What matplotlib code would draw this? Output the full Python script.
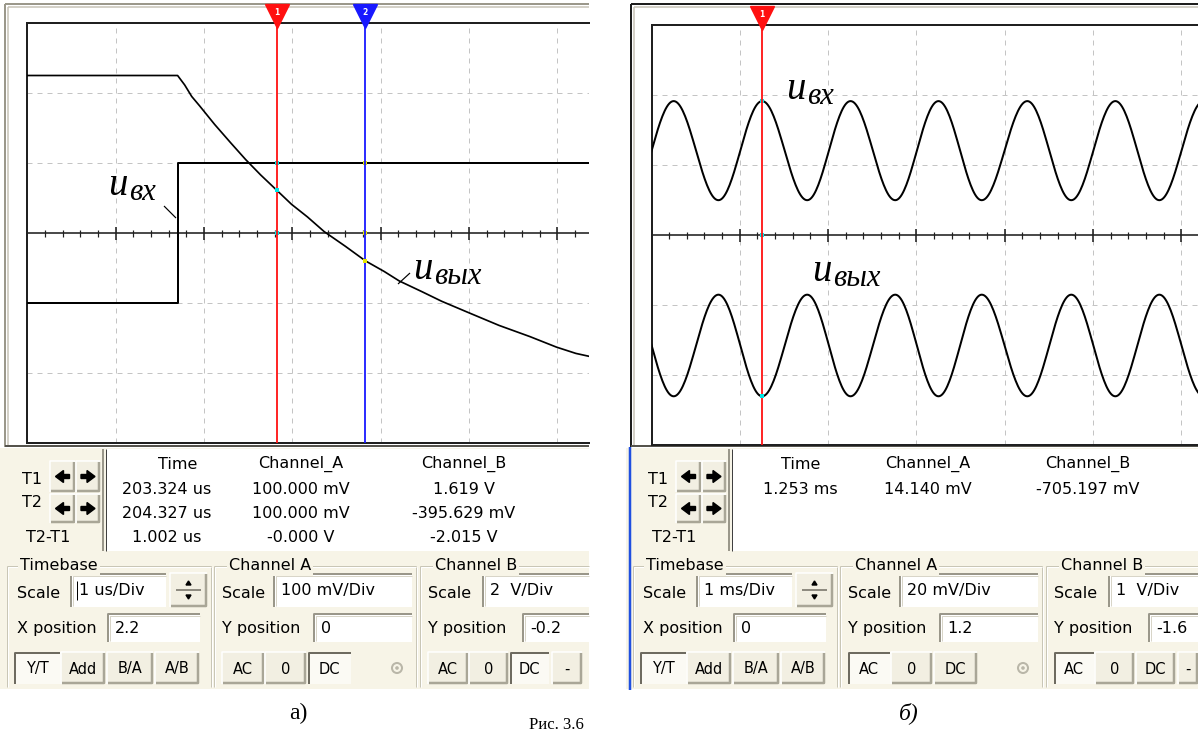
import numpy as np
import matplotlib.pyplot as plt
from matplotlib.patches import Rectangle, FancyArrow, Circle, Polygon

W, H = 1198, 735
PT = 0.72  # points per pixel at 100 dpi
BEIGE = '#F7F4E7'

# ---------- panel а): square wave step, 1 us/Div ----------
a_tA = [200.5, 202.2, 202.2, 207.0]          # us
a_uA = [-100, -100, 100, 100]                 # mV  (u_вх, channel A)
a_tB = [200.5, 202.2, 202.28, 202.36, 202.45, 202.62, 202.80, 202.97, 203.14,
        203.324, 203.49, 203.67, 203.86, 204.10, 204.327, 204.54, 204.71,
        204.97, 205.19, 205.49, 205.84, 206.19, 206.49, 206.71, 206.89]
a_uB = [4.9, 4.9, 4.63, 4.30, 4.03, 3.50, 2.98, 2.50, 2.06,
        1.619, 1.22, 0.86, 0.44, 0.02, -0.396, -0.70, -0.97,
        -1.28, -1.55, -1.87, -2.24, -2.56, -2.86, -3.04, -3.14]   # V (u_вых, channel B)
a_cursors = [203.324, 204.327]
a_curA = [100.0, 100.0]
a_curB = [1.619, -0.395629]
a_cols = ["Time", "Channel_A", "Channel_B"]
a_rows = [["203.324 us", "100.000 mV", "1.619 V"],
          ["204.327 us", "100.000 mV", "-395.629 mV"],
          ["1.002 us", "-0.000 V", "-2.015 V"]]
a_set = ["1 us/Div", "2.2", "100 mV/Div", "0", "2  V/Div", "-0.2"]

# ---------- panel б): sine, 1 ms/Div (extremes read off the screen) ----------
b_t = [-0.249, 0.251, 0.758, 1.253, 1.763, 2.254, 2.760, 3.250,
       3.740, 4.256, 4.754, 5.253, 5.751, 6.253]            # ms
b_uA = [-14.14, 14.14, -14.14, 14.14, -14.14, 14.14, -14.14, 14.14,
        -14.14, 14.14, -14.14, 14.14, -14.14, 14.14]         # mV
b_uB = [0.745, -0.705, 0.745, -0.705, 0.745, -0.705, 0.745, -0.705,
        0.745, -0.705, 0.745, -0.705, 0.745, -0.705]         # V
b_cursors = [1.253]
b_curA = [14.140]
b_curB = [-0.705197]
b_cols = ["Time", "Channel_A", "Channel_B"]
b_rows = [["1.253 ms", "14.140 mV", "-705.197 mV"]]
b_set = ["1 ms/Div", "0", "20 mV/Div", "1.2", "1  V/Div", "-1.6"]

plt.rcParams['font.family'] = ['DejaVu Sans']
fig = plt.figure(figsize=(W / 100, H / 100), dpi=100)
bg = fig.add_axes([0, 0, 1, 1], zorder=0)
bg.set_xlim(0, W); bg.set_ylim(H, 0); bg.axis('off')
fg = fig.add_axes([0, 0, 1, 1], zorder=10)
fg.set_xlim(0, W); fg.set_ylim(H, 0); fg.axis('off')


def line(ax, xs, ys, c, w=1, **kw):
    ax.plot(xs, ys, color=c, lw=w * PT, solid_capstyle='butt', **kw)


def rect(x0, y0, x1, y1, fc):
    bg.add_patch(Rectangle((x0, y0), x1 - x0, y1 - y0, fc=fc, ec='none'))


def entry(x0, y0, x1, y1, txt, caret=False):
    rect(x0, y0, x1, y1, 'white')
    line(bg, [x0 + 1, x0 + 1, x1], [y1, y0 + 1, y0 + 1], '#9A978A', 2)
    line(bg, [x0 + 3, x0 + 3, x1], [y1 - 1, y0 + 3, y0 + 3], '#D8D5C8', 1)
    tx = x0 + 8
    if caret:
        line(bg, [tx - 1, tx - 1], [y0 + 8, y1 - 7], 'black', 1)
        tx += 1
    bg.text(tx, (y0 + y1) / 2 + 1, txt, fontsize=11.5, va='center', ha='left')


def button(x0, y0, x1, y1, txt, pressed=False, fs=10.5):
    rect(x0, y0, x1, y1, '#FBFAF4' if pressed else '#F2EFE2')
    if pressed:
        line(bg, [x0 + 1, x0 + 1, x1], [y1, y0 + 1, y0 + 1], '#6E6B60', 2)
    else:
        line(bg, [x0, x0, x1], [y1, y0, y0], 'white', 1.5)
        line(bg, [x0 + 1, x1 - 1, x1 - 1], [y1 - 1, y1 - 1, y0 + 1], '#A9A697', 2.5)
    if txt:
        bg.text((x0 + x1) / 2, (y0 + y1) / 2 + 1, txt, fontsize=fs,
                ha='center', va='center')


def arrow_btn(x0, y0, x1, y1, d):
    button(x0, y0, x1, y1, '')
    xc, yc = (x0 + x1) / 2, (y0 + y1) / 2
    bg.add_patch(FancyArrow(xc - 7 * d, yc, 14 * d, 0, width=4, head_width=12,
                            head_length=8, length_includes_head=True,
                            color='black'))


def group(x0, y0, x1, y1, label, lx, right_edge=True):
    for dx, c in ((0, '#C9C6B6'), (1, 'white')):
        line(bg, [x0 + dx, x1], [y0 + dx, y0 + dx], c)
        line(bg, [x0 + dx, x0 + dx], [y0 + dx, y1], c)
        if right_edge:
            line(bg, [x1 + dx, x1 + dx], [y0 + dx, y1], c)
    bg.text(lx, y0, label, fontsize=11.5, va='center', ha='left',
            bbox=dict(fc=BEIGE, ec='none', pad=1.5))


def panel(ox, right, cols_x, head_dx, cols, rows, sets, pressed_ab, pressed_coupling, outer_c):
    # scope frame
    line(bg, [ox + 5, ox + 5], [4, 447], outer_c, 2)
    line(bg, [ox + 8, ox + 8], [7, 446], '#C6C3B6', 1.5)
    line(bg, [ox + 5, right], [4, 4], outer_c, 2)
    line(bg, [ox + 8, right], [7, 7], '#C6C3B6', 1.5)
    line(bg, [ox + 5, right], [446, 446], '#55534C', 2)
    # beige control area
    rect(ox, 448, right, 689, BEIGE)
    # T1/T2 block
    bg.text(ox + 22, 479, 'T1', fontsize=11.5, va='center')
    bg.text(ox + 22, 502, 'T2', fontsize=11.5, va='center')
    bg.text(ox + 48, 538, 'T2-T1', fontsize=11.5, va='center', ha='center')
    arrow_btn(ox + 50, 461, ox + 75, 492, -1)
    arrow_btn(ox + 76, 461, ox + 100, 492, 1)
    arrow_btn(ox + 50, 494, ox + 75, 523, -1)
    arrow_btn(ox + 76, 494, ox + 100, 523, 1)
    # readout
    rect(ox + 106, 449, right, 551, 'white')
    line(bg, [ox + 103, ox + 103], [449, 551], '#9A978A', 2)
    line(bg, [ox + 106, ox + 106], [449, 551], '#404040', 1)
    for cx, c in zip(cols_x, cols):
        bg.text(cx + (head_dx if c == 'Time' else 0), 464, c, fontsize=11.5,
                ha='center', va='center')
    for r, row in enumerate(rows):
        for cx, v in zip(cols_x, row):
            bg.text(cx, 489 + 24.5 * r, v, fontsize=11.5, ha='center', va='center')
    # groups
    group(ox + 7, 566, ox + 211, 687, 'Timebase', ox + 20)
    group(ox + 214, 566, ox + 416, 687, 'Channel A', ox + 229)
    group(ox + 420, 566, right, 687, 'Channel B', ox + 435, right_edge=False)
    # timebase
    bg.text(ox + 17, 593, 'Scale', fontsize=11.5, va='center')
    entry(ox + 70, 573, ox + 166, 607, sets[0], caret=(ox == 0))
    button(ox + 170, 573, ox + 207, 607, '')
    line(bg, [ox + 176, ox + 201], [590, 590], '#6E6B60', 1.5)
    bg.add_patch(Polygon([[ox + 186, 585], [ox + 191, 585], [ox + 188.5, 581]], color='black'))
    bg.add_patch(Polygon([[ox + 186, 595], [ox + 191, 595], [ox + 188.5, 599]], color='black'))
    bg.text(ox + 17, 629, 'X position', fontsize=11.5, va='center')
    entry(ox + 107, 613, ox + 200, 642, sets[1])
    labs = ['Y/T', 'Add', 'B/A', 'A/B']
    xs = [(14, 60), (61, 105), (107, 153), (155, 199)]
    for (a, b), t in zip(xs, labs):
        button(ox + a, 652, ox + b, 684, t, pressed=(t == pressed_ab))
    # channel A
    bg.text(ox + 222, 593, 'Scale', fontsize=11.5, va='center')
    entry(ox + 273, 573, ox + 412, 607, sets[2])
    bg.text(ox + 222, 629, 'Y position', fontsize=11.5, va='center')
    entry(ox + 313, 613, ox + 412, 642, sets[3])
    for (a, b), t in zip([(222, 264), (265, 306), (308, 351)], ['AC', '0', 'DC']):
        button(ox + a, 652, ox + b, 684, t, pressed=(t == pressed_coupling))
    bg.add_patch(Circle((ox + 397, 668), 5, fc='none', ec='#B9B6A8', lw=2 * PT))
    bg.add_patch(Circle((ox + 397, 668), 1.8, fc='#B9B6A8', ec='none'))
    # channel B
    bg.text(ox + 428, 593, 'Scale', fontsize=11.5, va='center')
    entry(ox + 482, 573, right, 607, sets[4])
    bg.text(ox + 428, 629, 'Y position', fontsize=11.5, va='center')
    entry(ox + 522, 613, right, 642, sets[5])
    for (a, b), t in zip([(428, 468), (469, 508), (510, 549), (552, 582)],
                         ['AC', '0', 'DC', '-']):
        button(ox + a, 652, min(ox + b, right), 684, t, pressed=(t == pressed_coupling))


def scope(left, top, right, bottom, t0, a_sc, a_pos, b_sc, b_pos):
    ax = fig.add_axes([left / W, 1 - bottom / H, (right - left) / W, (bottom - top) / H],
                      zorder=2)
    ndiv = (right - left) / 88.3
    ax.set_xlim(t0, t0 + ndiv)
    ax.set_ylim((-3 - a_pos) * a_sc, (3 - a_pos) * a_sc)
    axb = ax.twinx()
    axb.set_ylim((-3 - b_pos) * b_sc, (3 - b_pos) * b_sc)
    axb.axis('off')
    ax.set_xticks([]); ax.set_yticks([])
    for s in ('left', 'top', 'bottom'):
        ax.spines[s].set_linewidth(2 * PT)
        ax.spines[s].set_color('#202020')
    ax.spines['right'].set_visible(False)
    for k in range(1, int(ndiv) + 1):
        ax.axvline(t0 + k, color='#C4C4C4', lw=PT, ls=(0, (5, 5)))
    for k in (-2, -1, 1, 2):
        ax.axhline((k - a_pos) * a_sc, color='#C4C4C4', lw=PT, ls=(0, (5, 5)))
    y0 = -a_pos * a_sc
    ax.axhline(y0, color='#202020', lw=1.6 * PT)
    ticks = t0 + np.arange(1, int(ndiv * 5) + 1) * 0.2
    major = ticks[np.arange(1, len(ticks) + 1) % 5 == 0]
    minor = ticks[np.arange(1, len(ticks) + 1) % 5 != 0]
    ax.plot(minor, [y0] * len(minor), '|', color='#202020', ms=7 * PT, mew=1.2 * PT)
    ax.plot(major, [y0] * len(major), '|', color='#202020', ms=13 * PT, mew=1.6 * PT)
    return ax, axb


def cos_path(ts, vs, n=40):
    xs, ys = [], []
    for i in range(len(ts) - 1):
        u = np.linspace(0, 1, n)
        xs.append(ts[i] + (ts[i + 1] - ts[i]) * u)
        ys.append((vs[i] + vs[i + 1]) / 2 + (vs[i] - vs[i + 1]) / 2 * np.cos(np.pi * u))
    return np.concatenate(xs), np.concatenate(ys)


def cursors(ax, axb, ts, va, vb, y0):
    cols = ['#FF1010', '#1818FF']
    dots = ['#00E5E5', '#E8E800']
    for i, t in enumerate(ts):
        axb.axvline(t, color=cols[i], lw=1.8 * PT, zorder=5)
        ax.plot([t], [1.016], marker='v', ms=17, color=cols[i],
                transform=ax.get_xaxis_transform(), clip_on=False, zorder=6)
        ax.text(t, 1.024, str(i + 1), transform=ax.get_xaxis_transform(),
                color='white', fontsize=5.5, ha='center', va='center',
                fontweight='bold', clip_on=False, zorder=7)
        ax.plot([t, t], [va[i], y0], 's', ms=2.2, color=dots[i], mew=0, zorder=8)
        axb.plot([t], [vb[i]], 's', ms=2.2, color=dots[i], mew=0, zorder=8)


# ---- panel а) ----
panel(0, 589, [167, 301, 464], 11, a_cols, a_rows, a_set, 'Y/T', 'DC', '#9B988B')
axA, axAb = scope(27.5, 23, 589, 443, 200.5, 100, 0, 2, -0.2)
axA.plot(a_tA, a_uA, color='black', lw=2 * PT, zorder=4)
axAb.plot(a_tB, a_uB, color='black', lw=1.7 * PT, zorder=4)
cursors(axA, axAb, a_cursors, a_curA, a_curB, 0)

# ---- panel б) ----
panel(626, W, [800, 928, 1088], 1, b_cols, b_rows, b_set, 'Y/T', 'AC', '#1E1E1E')
line(bg, [630, 630], [447, 690], '#1F4FE0', 2.5)
axB, axBb = scope(651.5, 24.5, W, 445, 0.0, 20, 1.2, 1, -1.6)
xs, ys = cos_path(b_t, b_uA)
axB.plot(xs, ys, color='black', lw=2 * PT, zorder=4)
xs, ys = cos_path(b_t, b_uB)
axBb.plot(xs, ys, color='black', lw=2 * PT, zorder=4)
cursors(axB, axBb, b_cursors, b_curA, b_curB, -24)

# ---- trace labels ----
SER = ['Liberation Serif', 'DejaVu Serif']


def ulabel(x, y, sub, lead=None):
    fg.text(x, y, 'u', fontsize=28, family=SER, style='italic', va='baseline')
    fg.text(x + 21, y + 5, sub, fontsize=22, family=SER, style='italic', va='baseline')
    if lead:
        line(fg, lead[0], lead[1], 'black', 1.2)


ulabel(108, 195, 'вх', ([164, 176], [206, 218]))
ulabel(413, 279, 'вых', ([410, 398], [273, 284]))
ulabel(786, 99, 'вх')
ulabel(812, 281, 'вых')

# ---- captions ----
fg.text(298, 713, 'а)', fontsize=17, family=SER, ha='center', va='center')
fg.text(909, 713, 'б)', fontsize=17, family=SER, style='italic', ha='center', va='center')
fg.text(556, 733, 'Рис. 3.6', fontsize=12, family=SER, ha='center', va='bottom')

fig.savefig('out.png', dpi=100)
